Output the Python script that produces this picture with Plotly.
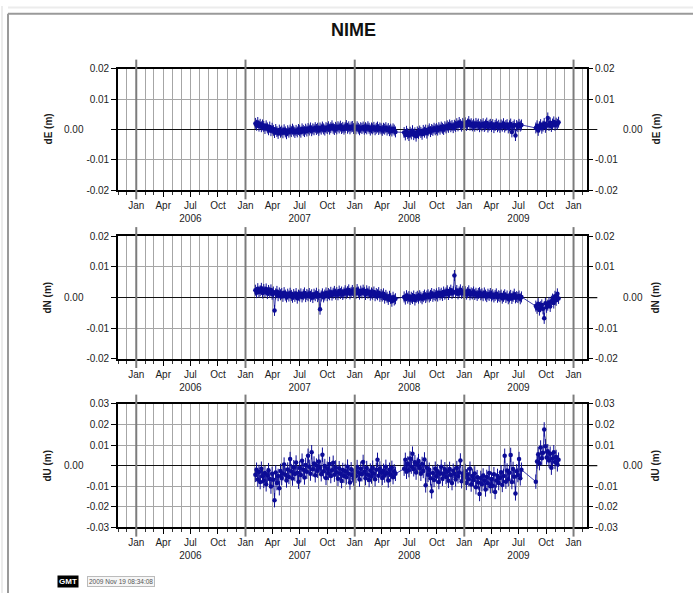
import pandas as pd
import plotly.graph_objects as go

# ---------------------------------------------------------------------------
# Station NIME daily position residuals (mm), sampled every 4 days.
# Each component is split into three continuous observing segments.
# ---------------------------------------------------------------------------
STATION = "NIME"
SEGMENT_STARTS = ["2007-02-03", "2008-06-14", "2009-08-28"]
STEP_DAYS = 4

DE_SEG1 = [2.0, 1.4, 2.3, 1.1, 1.7, 0.9, 1.5,
           1.0, 0.3, 1.2, 0.5, -0.1, 0.8, -0.4, 0.4,
           -0.3, -1.0, 0.0, -0.7, -1.3, -0.2, -0.9,
           -0.5, -1.1, -0.1, -0.8, -1.4, -0.4, -0.9, -0.2,
           -0.7, 0.1, -0.5, -1.0, -0.3, -0.8, 0.0,
           -0.4, -0.9, 0.2, -0.3, -0.7, 0.1, -0.5, 0.3,
           -0.2, 0.5, -0.4, 0.2, -0.1, 0.6, 0.0, 0.4,
           -0.3, 0.5, 0.1, 0.8, 0.2, -0.2, 0.6,
           0.3, 0.9, 0.1, 0.6, 1.2, 0.4, 0.0, 0.7,
           0.2, 0.9, 0.5, 1.1, 0.3, 0.7, 0.1,
           0.6, 1.3, 0.4, 0.9, 0.2, 0.8, 1.0, 0.3,
           0.7, 0.2, 0.9, 0.4, -0.1, 0.6, 0.3, 0.8,
           0.1, 0.6, 0.2, 0.9, 0.4, -0.2, 0.5,
           0.2, 0.7, -0.1, 0.4, 0.8, 0.0, 0.5, 0.2,
           -0.3, 0.4, 0.1, 0.6, -0.2, 0.3, -0.4,
           0.1, -0.5, 0.2, -0.2, -0.8]
DE_SEG2 = [-1.0, -1.8, -0.6, -1.4,
           -2.0, -0.9, -1.5, -0.4, -1.7, -1.1, -2.2, -0.8,
           -1.3, -0.5, -1.0, -1.6, -0.3, -0.9, -0.2, -1.2,
           -0.4, 0.2, -0.7, 0.0, -0.3, 0.4, -0.1,
           0.3, -0.2, 0.6, 0.1, 0.8, 0.4, 0.0, 0.9,
           0.5, 1.2, 0.7, 1.5, 0.9, 1.3, 0.6,
           1.4, 1.0, 1.9, 1.2, 2.3, 1.6, 1.1, 2.0,
           1.5, 2.2, 1.3, 1.8, 2.6, 1.4, 1.9, 1.2,
           1.7, 1.1, 2.0, 1.4, 1.8, 0.9, 1.6,
           1.2, 1.9, 1.0, 1.5, 2.1, 0.8, 1.4, 1.7,
           1.0, 1.6, 0.6, 1.3, 1.8, 0.9, 1.4,
           0.7, 1.5, 1.1, 1.9, 0.8, 1.3, 1.6, 0.5,
           1.2, 1.8, -0.8, 1.0, 1.5, -2.0, 1.3,
           0.9, 1.7, 1.1, 1.5]
DE_SEG3 = [0.5, 1.2, -0.3, 0.9, 1.6, 0.4, 1.1, 2.0, 0.7, 1.5,
           3.8, 1.3, 2.2, 1.0, 1.8, 2.5, 1.4, 2.1, 1.7, 2.4]

DN_SEG1 = [2.4, 1.6, 2.9, 1.8, 2.2, 3.0, 1.5,
           2.6, 1.9, 2.8, 1.3, 2.3, 1.7, 2.5, 1.1,
           1.8, -4.2, 1.2, 2.0, 0.6, 1.5, 0.9,
           1.3, 0.4, 1.6, 0.8, 0.2, 1.1, 0.5, 1.4,
           0.7, 0.1, 1.0, 0.4, 1.3, -0.2, 0.8,
           0.5, 1.2, 0.2, 0.9, 1.5, 0.3, 1.0, 0.6,
           1.3, 0.4, 0.9, 0.0, 1.1, 0.6, 1.4, 0.3,
           0.9, -3.8, 0.5, 1.2, 0.2, 0.8, 1.5,
           0.6, 1.3, 0.9, 1.7, 0.8, 1.4, 2.0, 1.1,
           1.6, 0.9, 2.1, 1.3, 1.8, 1.0, 1.5,
           2.2, 1.4, 1.9, 2.5, 1.2, 1.7, 2.3, 1.6,
           2.0, 1.3, 2.6, 1.8, 1.1, 2.1, 1.5, 2.4,
           1.7, 1.0, 2.2, 1.4, 1.9, 0.8, 1.5,
           1.1, 1.8, 0.6, 1.3, 0.9, 1.6, 0.4, 1.0,
           0.5, 1.2, -0.2, 0.7, 0.1, -0.6, 0.4,
           -0.3, -1.2, 0.1, -0.8, -0.4]
DN_SEG2 = [0.2, -0.5, 0.6, -0.2,
           0.3, -0.6, 0.1, -0.3, 0.5, -0.8, 0.0, 0.4,
           -0.2, 0.6, 0.1, -0.4, 0.3, 0.8, 0.0, 0.5,
           0.9, 0.2, 0.7, 1.3, 0.4, 1.0, 0.6,
           1.2, 0.5, 1.6, 0.9, 1.4, 0.7, 1.8, 1.1,
           1.5, 2.2, 1.0, 1.7, 2.4, 1.3, 1.9,
           7.2, 1.6, 2.3, 1.2, 1.8, 2.5, 1.4, 2.0,
           1.3, 1.9, 1.1, 1.6, 2.2, 0.9, 1.5, 1.2,
           1.8, 1.0, 1.4, 0.7, 1.3, 1.6, 0.9,
           1.2, 0.6, 1.5, 0.8, 0.3, 1.1, 0.7, 1.3,
           0.5, 0.9, 0.2, 0.7, 1.2, 0.1, 0.6,
           0.3, 0.8, -0.2, 0.4, 0.9, 0.0, 0.5, -0.4,
           0.2, 0.7, -0.3, 0.4, 1.1, -0.1, 0.3,
           0.0, 0.5, -0.4, 0.2]
DN_SEG3 = [-2.8, -3.5, -2.0, -4.1, -3.0, -2.4, -3.7, -6.8, -1.9, -3.2,
           -2.5, -1.6, -2.9, -1.2, -0.5, -1.8, 0.4, -0.9, 1.2, -0.3]

DU_SEG1 = [-4.5, -2.0, -6.8, -3.1, -8.0, -1.5, -5.2,
           -7.4, -3.6, -9.1, -4.8, -2.2, -6.5, -10.2, -4.0,
           -6.9, -16.8, -3.3, -8.5, -5.0, -11.0, -2.6,
           -6.0, -3.8, 0.5, -4.4, -7.2, -1.9, -5.5, 3.2,
           -2.7, -6.3, -0.8, -4.1, 1.5, -3.5, -7.8,
           -1.2, -4.6, 2.4, -2.0, -5.8, 0.3, -3.0, 4.8,
           -0.6, -3.9, 6.5, -1.8, 1.0, -4.7, 0.0, -2.5,
           2.0, -1.0, -4.2, 5.3, -2.8, -0.2, -6.0,
           -1.5, -3.6, 0.8, -5.1, -2.3, 1.4, -4.4, -0.9,
           -3.2, -6.4, -1.3, -4.0, -7.5, -2.1, -5.0,
           -2.6, -5.7, -0.5, -3.9, -8.2, -1.8, -4.6, -6.3,
           -2.2, -5.0, -0.7, -3.4, -6.8, -1.5, -4.2, 1.8,
           -3.0, -6.1, -1.2, -4.5, -7.0, -2.4, -5.3,
           -1.0, -3.8, -6.6, -2.0, 2.8, -4.9, -1.4, -3.3,
           -6.0, -2.5, -4.8, -0.6, -3.6, -7.2, -2.0,
           -4.3, -1.1, -5.6, -2.8, -4.0]
DU_SEG2 = [-1.5, 2.8, -3.0, 1.0,
           -2.2, 3.5, -0.5, 5.8, -1.8, 1.6, -3.4, 0.4,
           2.2, -1.2, -4.0, 0.8, -2.6, 3.0, -9.6, -1.0,
           -4.5, -2.0, -6.2, -12.5, -3.6, -7.0, -1.5,
           -5.2, -2.8, -8.0, -3.9, -0.6, -6.4, -4.0, -1.8,
           -5.5, -3.0, -7.4, -1.6, -4.6, -8.5, -2.5,
           -4.0, -6.8, -1.2, -5.2, -3.4, 2.5, -7.6, -3.8,
           -5.8, -2.6, -8.4, -4.4, -6.6, -1.5, -9.2, -5.0,
           -7.0, -3.8, -10.5, -5.6, -8.2, -13.8, -6.0,
           -9.0, -4.8, -7.4, -11.6, -5.5, -8.6, -3.6, -10.0,
           -6.5, -9.8, -4.2, -12.8, -7.2, -5.0, -8.5,
           -6.0, -3.2, -9.4, -5.0, 4.8, -7.8, -2.4, -6.6,
           -3.5, 5.2, -8.0, -1.6, -5.4, -13.5, -2.8,
           -4.6, 3.2, -6.2, -2.0]
DU_SEG3 = [-7.8, 2.0, 5.5, 1.2, 8.8, 3.6, 6.2, 17.6, 9.4, 4.0,
           7.0, 2.5, 5.8, -1.0, 3.4, 6.5, 1.8, 4.2, 0.6, 2.9]

COMPONENTS = ["dE", "dN", "dU"]
SERIES_MM = {
    "dE": [DE_SEG1, DE_SEG2, DE_SEG3],
    "dN": [DN_SEG1, DN_SEG2, DN_SEG3],
    "dU": [DU_SEG1, DU_SEG2, DU_SEG3],
}
SIGMA_MM = {"dE": 1.8, "dN": 1.8, "dU": 3.5}
Y_TICKS = {
    "dE": [-0.02, -0.01, 0.0, 0.01, 0.02],
    "dN": [-0.02, -0.01, 0.0, 0.01, 0.02],
    "dU": [-0.03, -0.02, -0.01, 0.0, 0.01, 0.02, 0.03],
}
MONTH_LABELS = ["Jan", "Apr", "Jul", "Oct"]
YEARS = [2006, 2007, 2008, 2009]
X_RANGE = ["2005-11-01", "2010-02-15"]
STAMP_TEXT = "2009 Nov 19 08:34:08"

# ---------------------------------------------------------------------------
W, H = 693, 599
FONT = "Liberation Sans, Arial, Helvetica, sans-serif"
DOT = "#0c0c96"
X_DOM = [118 / W, 587 / W]
# panel vertical extents in pixels (top, bottom)
PANEL_PX = [(64, 188), (235, 360), (406, 532)]


def ydom(top, bottom):
    return [1 - bottom / H, 1 - top / H]


def series_dates(segments):
    dates = []
    for start, vals in zip(SEGMENT_STARTS, segments):
        dates.extend(pd.date_range(start, periods=len(vals), freq=f"{STEP_DAYS}D"))
    return dates


def ax_id(letter, n):
    return letter if n == 1 else f"{letter}{n}"


# quarterly tick positions with month names, year written under July
tick_vals, tick_text = [], []
for yr in YEARS + [YEARS[-1] + 1]:
    for m, name in zip([1, 4, 7, 10], MONTH_LABELS):
        if yr > YEARS[-1] and m > 1:
            continue
        tick_vals.append(f"{yr}-{m:02d}-01")
        tick_text.append(name + (f"<br>{yr}" if m == 7 else ""))

fig = go.Figure()
shapes, annotations = [], []
tick_font = dict(family=FONT, size=10, color="#1c1c1c")
GRID = "#a6a6a6"

for i, comp in enumerate(COMPONENTS, start=1):
    segs = SERIES_MM[comp]
    x = series_dates(segs)
    y = [v / 1000.0 for seg in segs for v in seg]
    sig = SIGMA_MM[comp] / 1000.0
    xa, ya, yr_ax = ax_id("x", i), ax_id("y", i), f"y{i + 3}"
    fig.add_trace(go.Scatter(
        x=x, y=y, xaxis=xa, yaxis=ya, mode="lines+markers",
        line=dict(color=DOT, width=0.8),
        marker=dict(color=DOT, size=4.5, line=dict(width=0)),
        error_y=dict(type="constant", value=sig, color=DOT, thickness=1, width=0),
        showlegend=False, hoverinfo="skip",
    ))

    top, bot = PANEL_PX[i - 1]
    ticks = Y_TICKS[comp]
    lim = ticks[-1]
    ytext = ["" if t == 0 else f"{t:.2f}" for t in ticks]

    axis_common = dict(showline=True, linecolor="black", linewidth=1.6, mirror=True)
    fig.update_layout(**{
        "xaxis" + ("" if i == 1 else str(i)): dict(
            domain=X_DOM, anchor=ya, range=X_RANGE, type="date",
            tickmode="array", tickvals=tick_vals, ticktext=tick_text,
            ticks="outside", ticklen=5, tickwidth=1, tickcolor="black",
            showgrid=True, gridcolor=GRID, gridwidth=1,
            minor=dict(tickmode="linear", tick0="2006-01-01", dtick="M1",
                       showgrid=True, gridcolor=GRID, gridwidth=1,
                       ticks="outside", ticklen=3, tickcolor="#333"),
            tickfont=tick_font, zeroline=False, fixedrange=True, **axis_common,
        ),
        "yaxis" + ("" if i == 1 else str(i)): dict(
            domain=ydom(top, bot), anchor=xa, range=[-lim, lim],
            tickmode="array", tickvals=ticks, ticktext=ytext,
            ticks="outside", ticklen=5, tickwidth=1, tickcolor="black",
            showgrid=True, gridcolor=GRID, gridwidth=1,
            zeroline=True, zerolinecolor="#111", zerolinewidth=1.2,
            tickfont=tick_font, fixedrange=True, **axis_common,
        ),
        f"yaxis{i + 3}": dict(
            overlaying=ya, anchor=xa, side="right", range=[-lim, lim],
            tickmode="array", tickvals=ticks, ticktext=ytext,
            ticks="outside", ticklen=5, tickwidth=1, tickcolor="black",
            showgrid=False, zeroline=False, showline=False,
            tickfont=tick_font, fixedrange=True,
        ),
    })
    # empty trace so the right-hand axis is laid out
    fig.add_trace(go.Scatter(x=[X_RANGE[0]], y=[None], xaxis=xa, yaxis=yr_ax,
                             mode="markers", showlegend=False, hoverinfo="skip"))

    # heavier January lines, running just past the frame
    for yr in YEARS + [YEARS[-1] + 1]:
        shapes.append(dict(type="line", xref=xa, yref=f"{ya} domain",
                           x0=f"{yr}-01-01", x1=f"{yr}-01-01", y0=-0.075, y1=1.075,
                           line=dict(color="#7c7c7c", width=2), layer="above"))
    # zero line continues a little past the right frame
    shapes.append(dict(type="line", xref=f"{xa} domain", yref=ya, x0=1.0, x1=1.022,
                       y0=0, y1=0, line=dict(color="#111", width=1.2)))

    # offset zero annotations on both sides
    annotations.append(dict(text="0.00", xref="paper", yref=ya, x=86 / W, y=0,
                            xanchor="right", yanchor="middle", showarrow=False,
                            font=tick_font))
    annotations.append(dict(text="0.00", xref="paper", yref=ya, x=621 / W, y=0,
                            xanchor="left", yanchor="middle", showarrow=False,
                            font=tick_font))
    label = f"<b>{comp} (m)</b>"
    for px in (48, 656):
        annotations.append(dict(text=label, xref="paper", yref=f"{ya} domain",
                                x=px / W, y=0.5, textangle=-90, showarrow=False,
                                xanchor="center", yanchor="middle", font=tick_font))

# title
annotations.append(dict(text=f"<b>{STATION}</b>", xref="paper", yref="paper",
                        x=353 / W, y=1 - 24 / H, xanchor="center", yanchor="middle",
                        showarrow=False, font=dict(family=FONT, size=18, color="#111")))

# plot stamp in the lower-left corner
annotations.append(dict(text="<b>GMT</b>", xref="paper", yref="paper",
                        x=57 / W, y=1 - 587 / H, xanchor="left", yanchor="middle",
                        showarrow=False, bgcolor="black", borderpad=1,
                        font=dict(family=FONT, size=8, color="white")))
annotations.append(dict(text=STAMP_TEXT, xref="paper", yref="paper",
                        x=87 / W, y=1 - 587 / H, xanchor="left", yanchor="middle",
                        showarrow=False, bgcolor="#f6f6f6", bordercolor="#bbbbbb",
                        borderwidth=1, borderpad=1,
                        font=dict(family=FONT, size=6.5, color="#555")))

# page frame lines
shapes += [
    dict(type="line", xref="paper", yref="paper", x0=8 / W, x1=1, y0=1 - 8 / H, y1=1 - 8 / H,
         line=dict(color="#9a9a9a", width=2)),
    dict(type="line", xref="paper", yref="paper", x0=8 / W, x1=8 / W, y0=0, y1=1 - 8 / H,
         line=dict(color="#9a9a9a", width=2)),
    dict(type="line", xref="paper", yref="paper", x0=8 / W, x1=1, y0=1 - 1.5 / H, y1=1 - 1.5 / H,
         line=dict(color="#ececec", width=2)),
    dict(type="line", xref="paper", yref="paper", x0=2 / W, x1=2 / W, y0=0, y1=1,
         line=dict(color="#ececec", width=2)),
]

fig.update_layout(
    width=W, height=H, margin=dict(l=0, r=0, t=0, b=0),
    paper_bgcolor="white", plot_bgcolor="white",
    shapes=shapes, annotations=annotations, showlegend=False,
    font=dict(family=FONT),
)

fig.write_html("out.html", config={"displayModeBar": False})
